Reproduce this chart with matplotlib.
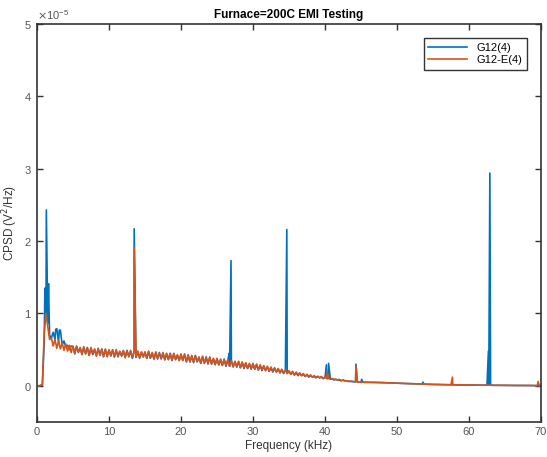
import numpy as np
import matplotlib
matplotlib.use("Agg")
import matplotlib.pyplot as plt

# ---------------- data (values in units of 1e-5 V^2/Hz) ----------------
f_step = 0.25   # uniform frequency grid 0..70 kHz

orange_vals = [
    # 0 - 4.75 kHz
    0.00,0.00,0.01,0.02,0.72,1.00,0.82,0.64,0.66,0.55,0.64,0.52,0.62,0.51,0.59,0.49,0.58,0.48,0.56,0.46,
    # 5 - 9.75
    0.55,0.45,0.54,0.47,0.53,0.43,0.54,0.45,0.52,0.42,0.53,0.44,0.51,0.41,0.52,0.43,0.50,0.41,0.51,0.40,
    # 10 - 14.75
    0.50,0.42,0.49,0.40,0.50,0.41,0.48,0.42,0.49,0.39,0.48,0.41,0.49,0.39,0.47,0.40,0.48,0.39,0.47,0.40,
    # 15 - 19.75
    0.47,0.38,0.48,0.39,0.46,0.37,0.47,0.38,0.45,0.38,0.46,0.36,0.45,0.37,0.44,0.35,0.45,0.37,0.43,0.35,
    # 20 - 24.75
    0.44,0.35,0.43,0.34,0.43,0.33,0.42,0.33,0.41,0.34,0.40,0.31,0.41,0.32,0.39,0.31,0.40,0.30,0.38,0.30,
    # 25 - 29.75
    0.38,0.29,0.37,0.29,0.36,0.28,0.36,0.27,0.35,0.27,0.34,0.26,0.34,0.25,0.33,0.25,0.32,0.24,0.31,0.24,
    # 30 - 34.75
    0.31,0.23,0.30,0.22,0.29,0.22,0.28,0.21,0.27,0.20,0.26,0.20,0.25,0.19,0.24,0.18,0.23,0.18,0.22,0.17,
    # 35 - 39.75
    0.21,0.16,0.20,0.15,0.19,0.15,0.18,0.14,0.17,0.13,0.16,0.13,0.15,0.12,0.14,0.12,0.13,0.11,0.13,0.10,
    # 40 - 44.75
    0.12,0.10,0.11,0.09,0.10,0.09,0.09,0.08,0.09,0.07,0.08,0.07,0.07,0.065,0.065,0.06,0.06,0.055,0.055,0.05,
    # 45 - 49.75
    0.050,0.050,0.050,0.049,0.049,0.048,0.048,0.047,0.047,0.046,0.046,0.045,0.044,0.044,0.043,0.042,0.041,0.040,0.039,0.038,
    # 50 - 54.75
    0.037,0.036,0.035,0.034,0.033,0.032,0.031,0.030,0.030,0.029,0.028,0.027,0.026,0.025,0.024,0.023,0.022,0.022,0.021,0.020,
    # 55 - 59.75
    0.019,0.019,0.018,0.018,0.017,0.017,0.016,0.016,0.015,0.015,0.014,0.014,0.013,0.013,0.013,0.012,0.012,0.012,0.011,0.011,
    # 60 - 64.75
    0.011,0.010,0.010,0.010,0.010,0.009,0.009,0.009,0.009,0.008,0.008,0.008,0.008,0.007,0.007,0.007,0.007,0.007,0.006,0.006,
    # 65 - 70
    0.006,0.006,0.006,0.005,0.005,0.005,0.005,0.005,0.005,0.004,0.004,0.004,0.004,0.004,0.004,0.004,0.003,0.003,0.003,0.003,
    0.003,
]

blue_vals = [
    # 0 - 4.75 kHz
    0.00,0.00,0.00,0.01,0.60,0.95,0.86,0.70,0.66,0.74,0.64,0.79,0.60,0.77,0.57,0.62,0.54,0.56,0.50,0.55,
    # 5 - 9.75
    0.54,0.44,0.55,0.46,0.52,0.44,0.53,0.44,0.53,0.42,0.52,0.43,0.50,0.42,0.51,0.42,0.51,0.40,0.50,0.41,
    # 10 - 14.75
    0.49,0.41,0.50,0.40,0.49,0.40,0.47,0.41,0.48,0.39,0.49,0.40,0.48,0.38,0.48,0.39,0.47,0.38,0.46,0.40,
    # 15 - 19.75
    0.46,0.38,0.47,0.38,0.45,0.37,0.46,0.37,0.46,0.37,0.45,0.36,0.44,0.36,0.45,0.35,0.44,0.36,0.42,0.35,
    # 20 - 24.75
    0.43,0.35,0.44,0.33,0.42,0.33,0.41,0.32,0.42,0.33,0.39,0.31,0.40,0.31,0.40,0.30,0.39,0.30,0.37,0.29,
    # 25 - 29.75
    0.37,0.29,0.36,0.28,0.37,0.27,0.35,0.27,0.34,0.26,0.33,0.26,0.33,0.25,0.32,0.24,0.31,0.24,0.30,0.23,
    # 30 - 34.75
    0.30,0.23,0.29,0.22,0.28,0.21,0.27,0.21,0.26,0.20,0.25,0.19,0.24,0.19,0.23,0.18,0.22,0.17,0.21,0.17,
    # 35 - 39.75
    0.20,0.16,0.19,0.15,0.18,0.14,0.17,0.14,0.16,0.13,0.15,0.12,0.14,0.12,0.13,0.11,0.13,0.11,0.12,0.10,
    # 40 - 44.75
    0.11,0.10,0.10,0.09,0.10,0.08,0.09,0.08,0.08,0.07,0.08,0.07,0.07,0.06,0.06,0.06,0.055,0.055,0.05,0.05,
    # 45 - 49.75
    0.050,0.050,0.049,0.049,0.048,0.048,0.047,0.047,0.046,0.046,0.045,0.045,0.044,0.043,0.042,0.042,0.041,0.040,0.039,0.038,
    # 50 - 54.75
    0.037,0.036,0.035,0.034,0.033,0.032,0.031,0.030,0.029,0.029,0.028,0.027,0.026,0.025,0.024,0.023,0.022,0.021,0.021,0.020,
    # 55 - 59.75
    0.019,0.019,0.018,0.018,0.017,0.017,0.016,0.016,0.015,0.015,0.014,0.014,0.013,0.013,0.012,0.012,0.012,0.011,0.011,0.011,
    # 60 - 64.75
    0.010,0.010,0.010,0.010,0.010,0.009,0.009,0.009,0.009,0.008,0.008,0.008,0.008,0.007,0.007,0.007,0.007,0.006,0.006,0.006,
    # 65 - 70
    0.006,0.006,0.005,0.005,0.005,0.005,0.005,0.005,0.005,0.004,0.004,0.004,0.004,0.004,0.004,0.003,0.003,0.003,0.003,0.003,
    0.003,
]

blue_spike_f = [1.1, 1.3, 1.6, 2.6, 3.1, 13.5, 26.7, 26.95, 34.7, 40.2, 40.5, 44.3, 45.1, 53.6, 62.7, 62.9]
blue_spike_a = [1.35, 2.43, 1.41, 0.78, 0.77, 2.17, 0.45, 1.73, 2.16, 0.29, 0.31, 0.30, 0.09, 0.05, 0.48, 2.94]
orange_spike_f = [13.5, 40.3, 44.3, 57.7, 69.6]
orange_spike_a = [1.91, 0.20, 0.28, 0.12, 0.06]

series_names = ["G12(4)", "G12-E(4)"]
scale = 1e-5


def build(vals, sf, sa):
    f = np.concatenate([f_step * np.arange(len(vals)), np.array(sf, dtype=float)])
    v = np.concatenate([np.array(vals, dtype=float), np.array(sa, dtype=float)])
    order = np.argsort(f, kind="stable")
    return f[order], v[order] * scale


fb, vb = build(blue_vals, blue_spike_f, blue_spike_a)
fo, vo = build(orange_vals, orange_spike_f, orange_spike_a)

# ---------------- plot ----------------
plt.rcParams['font.family'] = ['Liberation Sans', 'DejaVu Sans']
fig = plt.figure(figsize=(5.47, 4.57), dpi=100)
ax = fig.add_axes([0.0676, 0.0766, 0.9214, 0.8709])

ax.plot(fb, vb, color="#0072BD", lw=1.2, label=series_names[0])
ax.plot(fo, vo, color="#D95319", lw=1.2, label=series_names[1])

ax.set_xlim(0, 70)
ax.set_ylim(-0.5e-5, 5e-5)
ax.set_xticks(np.arange(0, 71, 10))
ax.set_yticks(np.arange(0, 6) * 1e-5)
ax.ticklabel_format(axis='y', style='sci', scilimits=(0, 0), useMathText=True)
ax.yaxis.get_offset_text().set_fontsize(8)
ax.yaxis.get_offset_text().set_color("#555555")

ax.tick_params(direction='in', top=True, right=True, length=4, width=1,
               labelsize=8, labelcolor="#555555", color="#333333")
for s in ax.spines.values():
    s.set_linewidth(1.2)
    s.set_color("#333333")

ax.set_xlabel("Frequency (kHz)", fontsize=8.5, color="#333333", labelpad=2)
ax.set_ylabel("CPSD (V$^2$/Hz)", fontsize=8.5, color="#333333")
ax.yaxis.set_label_coords(-0.034, 0.5)
ax.set_title("Furnace=200C EMI Testing", fontsize=8.5, fontweight='bold', pad=4)

leg = ax.legend(loc='upper right', fontsize=8, fancybox=False, framealpha=1,
                edgecolor="#333333", borderaxespad=1.3, handlelength=3.5,
                labelspacing=0.2, borderpad=0.4)
leg.get_frame().set_linewidth(1.0)

fig.savefig("out.png", dpi=100)
